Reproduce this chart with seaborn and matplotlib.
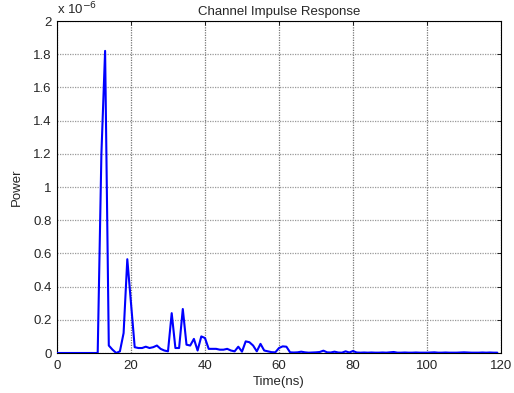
#!/usr/bin/env python3
"""
Channel impulse response plot (power vs. time), MATLAB-like look.
"""
import numpy as np
import pandas as pd
import matplotlib
matplotlib.use('Agg')
import matplotlib.pyplot as plt
import seaborn as sns

# Data: power in units of 1e-6, sampled every 1 ns from 0 to 119 ns
TIME_NS = list(range(0, 120))
POWER_E6 = [
    # 0-9
    0, 0, 0, 0, 0, 0, 0, 0, 0, 0,
    # 10-19
    0, 0, 1.2, 1.82, 0.045, 0.02, 0.0, 0.01, 0.12, 0.565,
    # 20-29
    0.3, 0.035, 0.03, 0.03, 0.038, 0.03, 0.035, 0.045, 0.025, 0.015,
    # 30-39
    0.01, 0.24, 0.03, 0.03, 0.265, 0.05, 0.045, 0.085, 0.015, 0.1,
    # 40-49
    0.09, 0.025, 0.025, 0.025, 0.02, 0.02, 0.025, 0.015, 0.01, 0.038,
    # 50-59
    0.008, 0.07, 0.065, 0.045, 0.01, 0.055, 0.015, 0.01, 0.005, 0.004,
    # 60-69
    0.03, 0.04, 0.038, 0.004, 0.003, 0.004, 0.008, 0.004, 0.002, 0.003,
    # 70-79
    0.004, 0.006, 0.014, 0.004, 0.003, 0.008, 0.003, 0.002, 0.01, 0.003,
    # 80-89
    0.012, 0.003, 0.002, 0.003, 0.002, 0.003, 0.002, 0.002, 0.003, 0.002,
    # 90-99
    0.004, 0.006, 0.002, 0.002, 0.003, 0.002, 0.002, 0.003, 0.002, 0.002,
    # 100-109
    0.002, 0.003, 0.004, 0.002, 0.002, 0.003, 0.002, 0.002, 0.002, 0.003,
    # 110-119
    0.004, 0.003, 0.002, 0.002, 0.002, 0.003, 0.002, 0.003, 0.002, 0.002,
]
SCALE = 1e-6

X_TICKS = [0, 20, 40, 60, 80, 100, 120]
Y_TICKS = [0, 0.2, 0.4, 0.6, 0.8, 1, 1.2, 1.4, 1.6, 1.8, 2]

TITLE = 'Channel Impulse Response'
X_LABEL = 'Time(ns)'
Y_LABEL = 'Power'

FONT_SIZE = 9.5


def main():
    sns.set_style('white')
    plt.rcParams['font.family'] = ['Liberation Sans', 'DejaVu Sans']
    plt.rcParams['font.size'] = FONT_SIZE

    df = pd.DataFrame({'time': TIME_NS, 'power': np.array(POWER_E6) * SCALE})

    fig = plt.figure(figsize=(5.14, 3.93), dpi=100)
    ax = fig.add_axes([57 / 514, 1 - 353 / 393, 444 / 514, 332 / 393])

    sns.lineplot(data=df, x='time', y='power', ax=ax, color='#0000ff',
                 linewidth=1.5, zorder=3)

    ax.set_xlim(0, 120)
    ax.set_ylim(0, 2 * SCALE)
    ax.set_xticks(X_TICKS)
    ax.set_xticklabels([str(t) for t in X_TICKS])
    ax.set_yticks([v * SCALE for v in Y_TICKS])
    ax.set_yticklabels([f'{v:g}' for v in Y_TICKS])

    # MATLAB-like dotted grid
    ax.xaxis.grid(True, color='#777777', linestyle=(0, (1, 1)), linewidth=0.9, zorder=0)
    ax.yaxis.grid(True, color='#999999', linestyle=(0, (1, 1)), linewidth=0.9, zorder=0)
    ax.tick_params(direction='in', length=3, width=0.6, color='black',
                   top=True, right=True, labelsize=FONT_SIZE)
    ax.tick_params(axis='x', pad=5)
    ax.tick_params(axis='y', pad=4)
    for spine in ax.spines.values():
        spine.set_color('black')
        spine.set_linewidth(0.8)

    ax.set_title(TITLE, fontsize=FONT_SIZE, pad=4)
    ax.set_xlabel(X_LABEL, fontsize=FONT_SIZE, labelpad=3)
    ax.set_ylabel(Y_LABEL, fontsize=FONT_SIZE, labelpad=7)

    # multiplier shown above the y axis, MATLAB style
    ax.text(0.0, 1.012, r'x 10$^{-6}$', transform=ax.transAxes,
            fontsize=FONT_SIZE, ha='left', va='bottom')

    fig.savefig('out.png', dpi=100)
    plt.close(fig)


if __name__ == '__main__':
    main()
